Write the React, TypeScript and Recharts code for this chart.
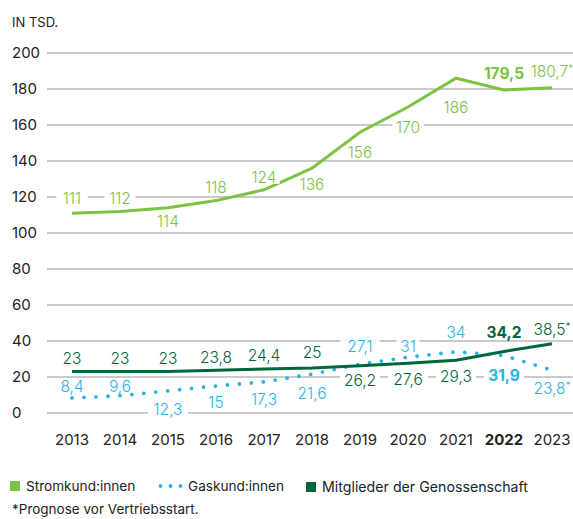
import { LineChart, Line, XAxis, YAxis, CartesianGrid, LabelList } from "recharts";

const years = ["2013", "2014", "2015", "2016", "2017", "2018", "2019", "2020", "2021", "2022", "2023"];
const strom = [111, 112, 114, 118, 124, 136, 156, 170, 186, 179.5, 180.7];
const gas = [8.4, 9.6, 12.3, 15, 17.3, 21.6, 27.1, 31, 34, 31.9, 23.8];
const mitglieder = [23, 23, 23, 23.8, 24.4, 25, 26.2, 27.6, 29.3, 34.2, 38.5];
const yTicks = [0, 20, 40, 60, 80, 100, 120, 140, 160, 180, 200];

// label offsets (label centre relative to point)
const stromDy = [-15, -13, 14, -13, -12, 16, 20, 20, 29, -16, -16];
const gasDy = [-11, -9, 19, 16, 18, 19, -18, -11, -19, 20, 18];
const mitgliederDy = [-13, -13, -13, -13, -14, -16, 15, 16, 16, -19, -14];

const BOLD_INDEX = 9;
const FORECAST_INDEX = 10;

const STROM = "#7cc243";
const GAS = "#27b2e8";
const MITGLIEDER = "#00663c";
const FONT = "Inter, 'Noto Sans', sans-serif";

const data = years.map((year, i) => ({
  year,
  strom: strom[i],
  gas: gas[i],
  mitglieder: mitglieder[i],
}));

const fmt = (v: number) => String(v).replace(".", ",");

const makeLabel = (color: string, offsets: number[]) => (props: any) => {
  const { x, y, value, index } = props;
  const text = fmt(value);
  const bold = index === BOLD_INDEX;
  const star = index === FORECAST_INDEX;
  const cy = y + offsets[index];
  const w = text.length * 8.4 + (star ? 5 : 0) + 6;
  return (
    <g>
      <rect x={x - w / 2} y={cy - 6} width={w} height={12} fill="#fff" />
      <text
        x={x}
        y={cy}
        dy={5.5}
        textAnchor="middle"
        fill={color}
        fontSize={15.5}
        fontWeight={bold ? 700 : 300}
        fontFamily={FONT}
      >
        {text}
        {star && (
          <tspan fontSize={10} dy={-5}>
            *
          </tspan>
        )}
      </text>
    </g>
  );
};

const YTick = ({ y, payload }: any) => (
  <text x={12} y={y} dy={5} textAnchor="start" fill="#222" fontSize={15} fontFamily={FONT}>
    {payload.value}
  </text>
);

const XTick = ({ x, y, payload }: any) => (
  <text
    x={x}
    y={y}
    dy={24}
    textAnchor="middle"
    fill="#222"
    fontSize={15}
    fontWeight={payload.value === years[BOLD_INDEX] ? 700 : 400}
    fontFamily={FONT}
  >
    {payload.value}
  </text>
);

const Square = ({ color }: { color: string }) => (
  <span style={{ display: "inline-block", width: 10, height: 10, background: color, marginRight: 6 }} />
);

const itemStyle = (left: number) => ({
  position: "absolute" as const,
  left,
  top: 478,
  display: "flex",
  alignItems: "center",
  fontSize: 13.6,
  whiteSpace: "nowrap" as const,
});

export default function App() {
  return (
    <div
      style={{
        position: "absolute",
        left: 0,
        top: 0,
        width: 573,
        height: 519,
        background: "#fff",
        overflow: "hidden",
        fontFamily: FONT,
        color: "#222",
      }}
    >
      <div style={{ position: "absolute", left: 12, top: 14, fontSize: 13 }}>IN TSD.</div>
      <LineChart width={573} height={460} data={data} margin={{ top: 53, right: 0, left: 0, bottom: 17 }}>
        <CartesianGrid vertical={false} stroke="#b9b9b9" strokeWidth={1.5} />
        <XAxis
          dataKey="year"
          axisLine={false}
          tickLine={false}
          height={30}
          padding={{ left: 25, right: 21 }}
          tick={<XTick />}
          interval={0}
        />
        <YAxis
          domain={[0, 200]}
          ticks={yTicks}
          axisLine={false}
          tickLine={false}
          width={47}
          tick={<YTick />}
          interval={0}
        />
        <Line
          dataKey="strom"
          stroke={STROM}
          strokeWidth={3}
          dot={false}
          isAnimationActive={false}
        >
          <LabelList dataKey="strom" content={makeLabel(STROM, stromDy)} />
        </Line>
        <Line
          dataKey="gas"
          stroke={GAS}
          strokeWidth={3.8}
          strokeDasharray="0 12"
          strokeLinecap="round"
          dot={false}
          isAnimationActive={false}
        >
          <LabelList dataKey="gas" content={makeLabel(GAS, gasDy)} />
        </Line>
        <Line
          dataKey="mitglieder"
          stroke={MITGLIEDER}
          strokeWidth={3}
          dot={false}
          isAnimationActive={false}
        >
          <LabelList dataKey="mitglieder" content={makeLabel(MITGLIEDER, mitgliederDy)} />
        </Line>
      </LineChart>
      <div style={itemStyle(10)}>
        <Square color={STROM} />
        Stromkund:innen
      </div>
      <div style={itemStyle(158)}>
        <svg width={25} height={10} style={{ marginRight: 5 }}>
          {[2.5, 12.5, 22.5].map((cx) => (
            <circle key={cx} cx={cx} cy={5} r={1.9} fill={GAS} />
          ))}
        </svg>
        Gaskund:innen
      </div>
      <div style={itemStyle(306)}>
        <Square color={MITGLIEDER} />
        <span style={{ fontSize: 14.2 }}>Mitglieder der Genossenschaft</span>
      </div>
      <div style={{ position: "absolute", left: 12, top: 501, fontSize: 13.5 }}>
        *Prognose vor Vertriebsstart.
      </div>
    </div>
  );
}
